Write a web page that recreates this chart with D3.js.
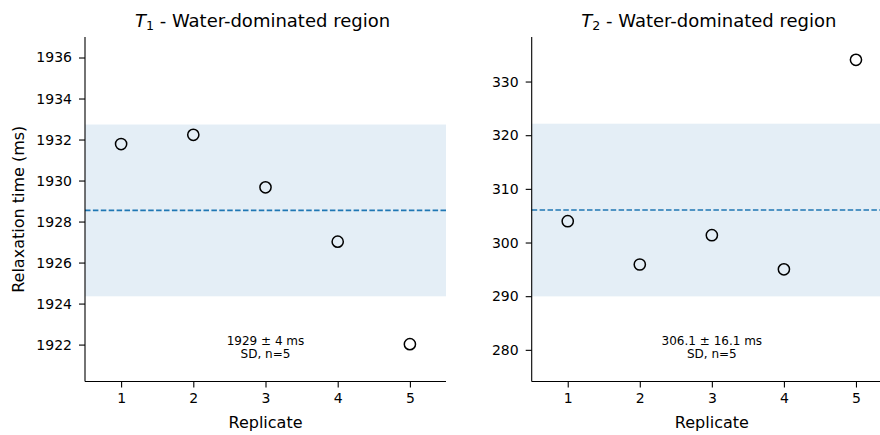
<!DOCTYPE html>
<html>
<head>
<meta charset="utf-8">
<script src="https://cdn.jsdelivr.net/npm/d3@7"></script>
<style>
    body { margin: 0; background: #fff; }
    svg { display: block; font-family: 'DejaVu Sans', sans-serif; }
    .axis path, .axis line { stroke: #000; stroke-width: 1.1; }
</style>
</head>
<body>
<div id="chart"></div>
<script>
'use strict';

// replicate numbers on the x axis
var replicates = [1, 2, 3, 4, 5];

// T1 panel values (ms)
var t1Values = [1931.78, 1932.23, 1929.67, 1927.02, 1922.02];
var t1Ticks = [1922, 1924, 1926, 1928, 1930, 1932, 1934, 1936];
var t1Domain = [1920.2, 1937.0];
var t1Note = ['1929 \u00b1 4 ms', 'SD, n=5'];

// T2 panel values (ms)
var t2Values = [303.97, 295.9, 301.36, 295.0, 334.05];
var t2Ticks = [280, 290, 300, 310, 320, 330];
var t2Domain = [274.1, 338.3];
var t2Note = ['306.1 \u00b1 16.1 ms', 'SD, n=5'];

var panelTitles = ['1', '2'];

var width = 880, height = 435;
var margin = {top: 37, bottom: 53.5};
var plotHeight = height - margin.top - margin.bottom;

var svg = d3.select('#chart').append('svg')
    .attr('width', width)
    .attr('height', height);

function drawPanel(opts) {
    var g = svg.append('g')
        .attr('transform', 'translate(' + opts.left + ',' + margin.top + ')');
    var plotWidth = opts.width;

    var xScale = d3.scaleLinear()
        .domain([0.5, 5.5])
        .range([0, plotWidth]);
    var yScale = d3.scaleLinear()
        .domain(opts.domain)
        .range([plotHeight, 0]);

    var m = d3.mean(opts.values);
    var sd = d3.deviation(opts.values);

    // shaded +/- 1 SD band
    g.append('rect')
        .attr('x', 0)
        .attr('width', plotWidth)
        .attr('y', yScale(m + sd))
        .attr('height', yScale(m - sd) - yScale(m + sd))
        .attr('fill', '#1f77b4')
        .attr('fill-opacity', 0.12);

    // mean line
    g.append('line')
        .attr('x1', 0)
        .attr('x2', plotWidth)
        .attr('y1', yScale(m))
        .attr('y2', yScale(m))
        .attr('stroke', '#1f77b4')
        .attr('stroke-width', 1.7)
        .attr('stroke-dasharray', '5.5,2.4');

    g.selectAll('circle')
        .data(opts.values)
        .enter()
        .append('circle')
        .attr('cx', function(d, i) { return xScale(replicates[i]); })
        .attr('cy', function(d) { return yScale(d); })
        .attr('r', 5.6)
        .attr('fill', 'none')
        .attr('stroke', '#000')
        .attr('stroke-width', 1.5);

    var xAxis = d3.axisBottom(xScale)
        .tickValues(replicates)
        .tickFormat(d3.format('d'))
        .tickSizeOuter(0)
        .tickSize(6)
        .tickPadding(6);
    var yAxis = d3.axisLeft(yScale)
        .tickValues(opts.ticks)
        .tickFormat(d3.format('d'))
        .tickSizeOuter(0)
        .tickSize(6)
        .tickPadding(7);

    var xg = g.append('g')
        .attr('class', 'axis')
        .attr('transform', 'translate(0,' + plotHeight + ')')
        .call(xAxis);
    xg.select('.domain').attr('d', 'M0,0H' + plotWidth);

    var yg = g.append('g')
        .attr('class', 'axis')
        .call(yAxis);
    yg.select('.domain').attr('d', 'M0,' + plotHeight + 'V0');

    g.selectAll('.axis text')
        .style('font-family', "'DejaVu Sans', sans-serif")
        .style('font-size', '14px')
        .attr('fill', '#000');

    // x label
    g.append('text')
        .attr('x', plotWidth / 2)
        .attr('y', plotHeight + 46.5)
        .attr('text-anchor', 'middle')
        .attr('font-size', '16px')
        .text('Replicate');

    // title
    var title = g.append('text')
        .attr('x', plotWidth / 2 - 3)
        .attr('y', -10)
        .attr('text-anchor', 'middle')
        .attr('font-size', '18px');
    title.append('tspan')
        .attr('font-style', 'italic')
        .text('T');
    title.append('tspan')
        .attr('font-size', '12.6px')
        .attr('dy', 3)
        .text(opts.sub);
    title.append('tspan')
        .attr('dy', -3)
        .text(' - Water-dominated region');

    // SD annotation
    var note = g.append('text')
        .attr('text-anchor', 'middle')
        .attr('font-size', '12px');
    note.selectAll('tspan')
        .data(opts.note)
        .enter()
        .append('tspan')
        .attr('x', plotWidth / 2)
        .attr('y', function(d, i) { return plotHeight - 36.5 + i * 13; })
        .text(function(d) { return d; });

    return g;
}

drawPanel({left: 85, width: 361, values: t1Values, ticks: t1Ticks,
    domain: t1Domain, note: t1Note, sub: panelTitles[0]});
drawPanel({left: 531.7, width: 360.3, values: t2Values, ticks: t2Ticks,
    domain: t2Domain, note: t2Note, sub: panelTitles[1]});

// shared y label
svg.append('text')
    .attr('transform', 'translate(24,' + (margin.top + plotHeight / 2) + ') rotate(-90)')
    .attr('text-anchor', 'middle')
    .attr('font-size', '16px')
    .text('Relaxation time (ms)');
</script>
</body>
</html>
